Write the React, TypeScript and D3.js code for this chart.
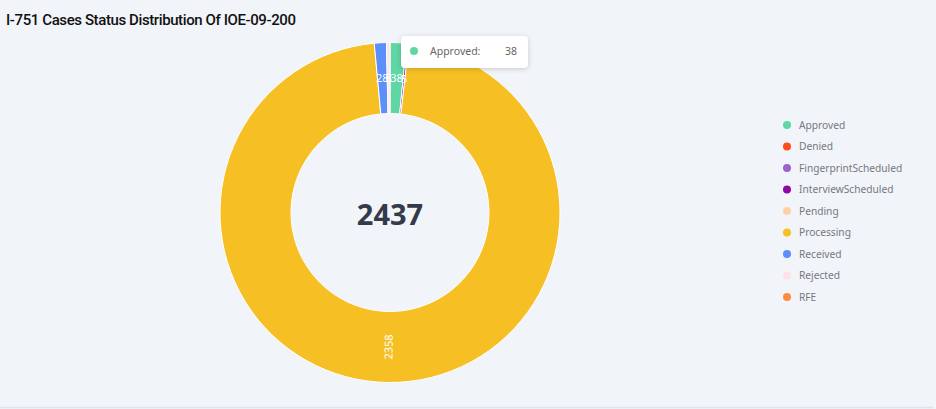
import { useMemo } from "react";
import * as d3 from "d3";

const categories = [
  "Approved",
  "Denied",
  "FingerprintScheduled",
  "InterviewScheduled",
  "Pending",
  "Processing",
  "Received",
  "Rejected",
  "RFE",
];
const counts = [38, 0, 0, 5, 0, 2358, 28, 8, 0];
const colors = [
  "#5fd6a4",
  "#ff4e1c",
  "#9b63c9",
  "#8e0aa3",
  "#ffcfa5",
  "#f6bf24",
  "#5b8ff9",
  "#ffe1ea",
  "#ff8b3d",
];
const title = "I-751 Cases Status Distribution Of IOE-09-200";
const tooltipIndex = 0;

const W = 936;
const H = 409;

export default function App() {
  const cx = 390;
  const cy = 212.5;
  const outerR = 170;
  const innerR = 99;

  const total = d3.sum(counts);
  const rows = categories.map((name, i) => ({ name, value: counts[i], color: colors[i] }));

  const arcs = useMemo(
    () =>
      d3
        .pie<(typeof rows)[number]>()
        .sort(null)
        .value((d) => d.value)
        .startAngle(0)
        .endAngle(2 * Math.PI)(rows),
    [],
  );
  const arcGen = d3
    .arc<d3.PieArcDatum<(typeof rows)[number]>>()
    .innerRadius(innerR)
    .outerRadius(outerR);
  const labelR = (innerR + outerR) / 2;

  // legend rows
  const legendY = d3
    .scalePoint<string>()
    .domain(categories)
    .range([125, 297]);

  const tip = rows[tooltipIndex];

  return (
    <svg
      width={W}
      height={H}
      style={{ display: "block", position: "absolute", left: 0, top: 0 }}
      fontFamily="'Noto Sans', 'Open Sans', sans-serif"
    >
      <defs>
        <filter id="shadow" x="-20%" y="-40%" width="140%" height="180%">
          <feDropShadow dx="0" dy="1" stdDeviation="2.5" floodColor="#000" floodOpacity="0.18" />
        </filter>
      </defs>
      <rect x={0} y={0} width={W} height={H} fill="#f1f4f9" />
      <line x1={0} x2={933} y1={407.5} y2={407.5} stroke="#dfe2ea" strokeWidth={1.5} />

      <text
        x={6}
        y={25}
        fontFamily="Roboto, sans-serif"
        fontWeight={500}
        fontSize={15}
        letterSpacing={-0.4}
        fill="#111"
      >
        {title}
      </text>

      <g transform={`translate(${cx},${cy})`}>
        {arcs.map((a, i) =>
          a.value > 0 ? (
            <path key={i} d={arcGen(a) ?? ""} fill={a.data.color} stroke="#fff" strokeWidth={1} />
          ) : null,
        )}
        {arcs.map((a, i) => {
          if (a.value <= 0) return null;
          const mid = (a.startAngle + a.endAngle) / 2;
          const x = Math.sin(mid) * labelR;
          const y = -Math.cos(mid) * labelR;
          const big = a.endAngle - a.startAngle > 0.5;
          let rot = 0;
          if (big) {
            rot = (mid * 180) / Math.PI - 90;
            if (rot > 90) rot -= 180;
          }
          return (
            <text
              key={`l-${i}`}
              transform={`translate(${x},${y}) rotate(${rot})`}
              textAnchor="middle"
              dy="0.35em"
              fontSize={11}
              fill="#fff"
            >
              {a.value}
            </text>
          );
        })}
        <text
          x={0}
          y={12}
          textAnchor="middle"
          fontFamily="'Open Sans', 'Noto Sans', sans-serif"
          fontWeight={700}
          fontSize={29}
          fill="#343a4b"
        >
          {total}
        </text>
      </g>

      {rows.map((r) => (
        <g key={r.name} transform={`translate(787,${legendY(r.name)})`}>
          <circle r={4} fill={r.color} />
          <text x={12} dy="0.35em" fontSize={10.2} fill="#76787f">
            {r.name}
          </text>
        </g>
      ))}

      <g transform="translate(401,36)">
        <rect width={127} height={32} rx={4} fill="#fff" filter="url(#shadow)" />
        <circle cx={13} cy={15} r={4} fill={tip.color} />
        <text x={29} y={15} dy="0.35em" fontSize={10.5} fill="#666">
          {tip.name}:
        </text>
        <text x={116} y={15} dy="0.35em" fontSize={10.5} textAnchor="end" fill="#666">
          {tip.value}
        </text>
      </g>
    </svg>
  );
}
